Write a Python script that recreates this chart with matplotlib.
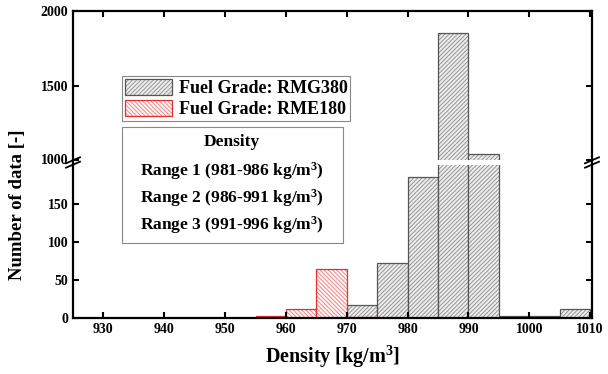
import matplotlib
matplotlib.use("Agg")
import matplotlib.pyplot as plt
from matplotlib.patches import Rectangle, Patch
from matplotlib.lines import Line2D

plt.rcParams['font.family'] = ['Liberation Serif', 'DejaVu Serif']
plt.rcParams['font.weight'] = 'bold'
plt.rcParams['mathtext.fontset'] = 'custom'
plt.rcParams['mathtext.rm'] = 'Liberation Serif:bold'
plt.rcParams['mathtext.bf'] = 'Liberation Serif:bold'
plt.rcParams['mathtext.default'] = 'bf'
plt.rcParams['hatch.linewidth'] = 0.6

# data
bin_left = [955, 960, 965, 970, 975, 980, 985, 990, 995, 1000, 1005]
bin_width = 5
rmg380 = [0, 0, 0, 17, 72, 185, 1852, 1040, 3, 3, 12]
rme180 = [3, 12, 65, 1, 0, 0, 0, 0, 0, 0, 0]
xticks = [930, 940, 950, 960, 970, 980, 990, 1000, 1010]
yticks_low = [0, 50, 100, 150]
yticks_high = [1000, 1500, 2000]
density_lines = ["Density",
                 "Range 1 (981-986 kg/m$^3$)",
                 "Range 2 (986-991 kg/m$^3$)",
                 "Range 3 (991-996 kg/m$^3$)"]

W, H = 608, 374
fig = plt.figure(figsize=(6.08, 3.74), dpi=100)
left, right = 73 / W, 592 / W
ax_hi = fig.add_axes([left, (H - 160) / H, right - left, (160 - 11) / H])
ax_lo = fig.add_axes([left, (H - 318) / H, right - left, (318 - 165) / H])

gray_kw = dict(facecolor='#ececec', edgecolor='#555555', hatch='////////', linewidth=0.9)
red_kw = dict(facecolor='#fff2f2', edgecolor='#e03030', hatch='\\\\\\\\\\\\\\\\', linewidth=0.9)

for ax in (ax_hi, ax_lo):
    b1 = ax.bar(bin_left, rmg380, width=bin_width, align='edge', **gray_kw)
    b2 = ax.bar(bin_left, rme180, width=bin_width, align='edge', **red_kw)
    for p in b1:
        p._hatch_color = matplotlib.colors.to_rgba('#8a8a8a')
    for p in b2:
        p._hatch_color = matplotlib.colors.to_rgba('#e88080')
    ax.set_xlim(925, 1010.3)
    ax.tick_params(direction='in', length=4, width=1.5, top=True, right=True,
                   labelsize=10)
    for s in ax.spines.values():
        s.set_linewidth(1.6)

ax_hi.set_ylim(1000, 2000)
ax_lo.set_ylim(0, 201)
ax_hi.set_yticks(yticks_high)
ax_lo.set_yticks(yticks_low)
ax_hi.set_xticks(xticks)
ax_lo.set_xticks(xticks)
ax_hi.tick_params(labelbottom=False, bottom=False)
ax_lo.tick_params(top=False)
ax_hi.spines['bottom'].set_visible(False)
ax_lo.spines['top'].set_visible(False)
for lab in ax_hi.get_yticklabels() + ax_lo.get_yticklabels() + ax_lo.get_xticklabels():
    lab.set_fontweight('bold')
ax_hi.get_yticklabels()[0].set_verticalalignment('center')

ax_lo.set_xlabel('Density [kg/m$^3$]', fontsize=14.5, fontweight='bold', labelpad=6)
fig.text(18 / W, (H - 205) / H, 'Number of data [-]', rotation=90, fontsize=13.5,
         fontweight='bold', ha='center', va='center')

# spine connections and break marks
for xp in (left, right):
    fig.add_artist(Line2D([xp, xp], [(H - 165) / H, (H - 160) / H], color='black',
                          lw=1.6, transform=fig.transFigure))
    for dy in (-2.2, 2.2):
        yc = (H - 162.5 + dy) / H
        fig.add_artist(Line2D([xp - 7 / W, xp + 7 / W], [yc - 3 / H, yc + 3 / H],
                              color='black', lw=1.3, transform=fig.transFigure))

# legend
handles = [Patch(**gray_kw, label='Fuel Grade: RMG380'),
           Patch(**red_kw, label='Fuel Grade: RME180')]
leg = ax_hi.legend(handles=handles, loc='upper left',
                   bbox_to_anchor=((122 - 73) / (592 - 73), (160 - 76) / (160 - 11)),
                   fancybox=False, edgecolor='#888888', framealpha=1,
                   prop={'family': 'Liberation Serif', 'weight': 'bold', 'size': 13},
                   handlelength=2.6, handleheight=1.0, handletextpad=0.4,
                   borderpad=0.15, labelspacing=0.15, borderaxespad=0)
leg.get_frame().set_linewidth(0.8)
for p, c in zip(leg.get_patches(), ['#8a8a8a', '#e88080']):
    p._hatch_color = matplotlib.colors.to_rgba(c)

# density box
box = Rectangle((122 / W, (H - 243) / H), (343 - 122) / W, (243 - 127) / H,
                transform=fig.transFigure, facecolor='white', edgecolor='#888888',
                lw=0.8, zorder=5)
fig.add_artist(box)
ys = [142, 171, 198, 225]
for t, yy in zip(density_lines, ys):
    fig.text(232 / W, (H - yy) / H, t, ha='center', va='center', fontsize=12.5,
             fontweight='bold', zorder=6)

fig.savefig('out.png', dpi=100)
